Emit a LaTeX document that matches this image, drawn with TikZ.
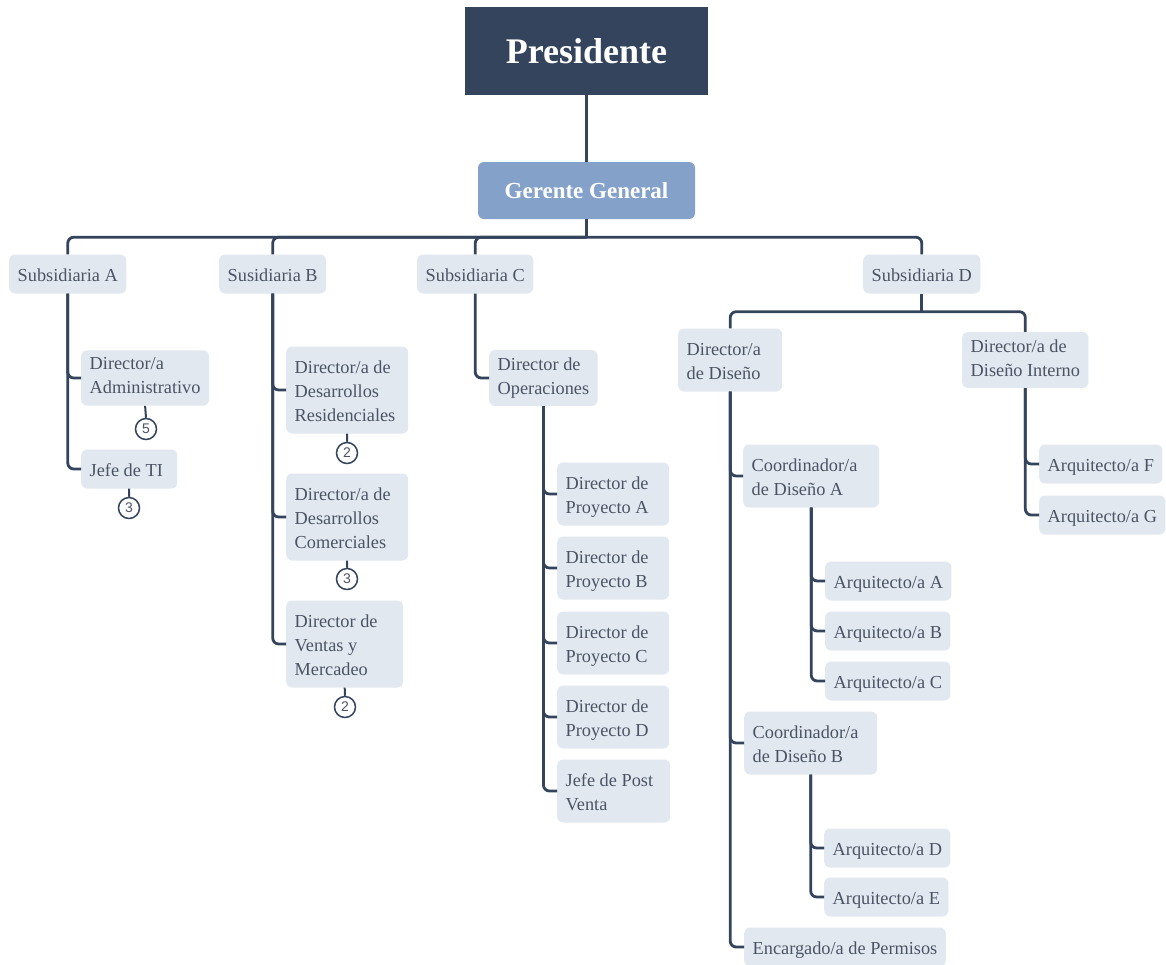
\documentclass[tikz,border=0pt]{standalone}
\usepackage{fontspec}
\setmainfont{Liberation Serif}
\newfontfamily\badgefont{Liberation Sans}

\definecolor{navy}{HTML}{34445C}
\definecolor{gmblue}{HTML}{84A1C9}
\definecolor{boxfill}{HTML}{E2E8F0}
\definecolor{boxtext}{HTML}{4B5465}

\newcommand{\linestrut}{\rule[-4.2pt]{0pt}{24pt}}

\tikzset{
  topbox/.style={fill=navy, text=white, minimum width=243pt, minimum height=88pt,
    font=\fontsize{36}{40}\selectfont\bfseries},
  gmbox/.style={fill=gmblue, text=white, rounded corners=6pt, minimum width=217pt,
    minimum height=57pt, font=\fontsize{23}{28}\selectfont\bfseries},
  orgbox/.style={fill=boxfill, text=boxtext, rounded corners=6pt, anchor=west, align=flush left,
    font=\fontsize{18.3}{24}\selectfont, inner xsep=8.5pt, inner ysep=7.5pt,
    execute at begin node=\linestrut, execute at end node=\linestrut},
  conn/.style={draw=navy, line width=2.8pt, rounded corners=6pt},
  stub/.style={draw=navy, line width=2pt},
  badge/.style={circle, draw=navy, line width=1.5pt, fill=white, minimum size=21pt,
    inner sep=0pt, text=boxtext, font=\badgefont\fontsize{14}{14}\selectfont}
}

\begin{document}
\begin{tikzpicture}[x=1pt, y=-1pt]
  \fill[white] (0,0) rectangle (1166,964);
  \useasboundingbox (0,0) rectangle (1166,964);

  % top
  \node[topbox] (pres) at (586.5,51) {Presidente};
  \node[gmbox] (gm) at (586.5,190.5) {Gerente General};

  % subsidiarias
  \node[orgbox] (subA) at (9,274) {Subsidiaria A};
  \node[orgbox] (subB) at (219,274) {Susidiaria B};
  \node[orgbox] (subC) at (417,274) {Subsidiaria C};
  \node[orgbox] (subD) at (863,274) {Subsidiaria D};

  % subsidiaria A
  \node[orgbox] (dirAdm) at (81,378) {Director/a\\Administrativo};
  \node[orgbox, text width=79pt] (jefeTI) at (81,469) {Jefe de TI};

  % subsidiaria B
  \node[orgbox, text width=105pt] (dirRes) at (286,390) {Director/a de\\Desarrollos\\Residenciales};
  \node[orgbox, text width=105pt] (dirCom) at (286,517) {Director/a de\\Desarrollos\\Comerciales};
  \node[orgbox, text width=100pt] (dirVen) at (286,644) {Director de\\Ventas y\\Mercadeo};

  % subsidiaria C
  \node[orgbox] (dirOp) at (489,378) {Director de\\Operaciones};
  \node[orgbox, text width=95pt] (proyA) at (557,494) {Director de\\Proyecto A};
  \node[orgbox, text width=95pt] (proyB) at (557,568) {Director de\\Proyecto B};
  \node[orgbox, text width=95pt] (proyC) at (557,643) {Director de\\Proyecto C};
  \node[orgbox, text width=95pt] (proyD) at (557,717) {Director de\\Proyecto D};
  \node[orgbox, text width=96pt] (postV) at (557,791) {Jefe de Post\\Venta};

  % subsidiaria D
  \node[orgbox, text width=87pt] (dirDis) at (678,360) {Director/a\\de Diseño};
  \node[orgbox] (dirInt) at (962,360) {Director/a de\\Diseño Interno};
  \node[orgbox, text width=119pt] (coordA) at (743,476) {Coordinador/a\\de Diseño A};
  \node[orgbox] (arqA) at (825,581) {Arquitecto/a A};
  \node[orgbox] (arqB) at (825,631) {Arquitecto/a B};
  \node[orgbox] (arqC) at (825,681) {Arquitecto/a C};
  \node[orgbox, text width=116pt] (coordB) at (744,743) {Coordinador/a\\de Diseño B};
  \node[orgbox] (arqD) at (824,848) {Arquitecto/a D};
  \node[orgbox] (arqE) at (824,897) {Arquitecto/a E};
  \node[orgbox] (permisos) at (744,947) {Encargado/a de Permisos};
  \node[orgbox] (arqF) at (1039,464) {Arquitecto/a F};
  \node[orgbox] (arqG) at (1039,515) {Arquitecto/a G};

  % badges
  \node[badge] (cntAdm) at (146,429) {5};
  \node[badge] (cntTI) at (129,508) {3};
  \node[badge] (cntRes) at (347,453) {2};
  \node[badge] (cntCom) at (347,579) {3};
  \node[badge] (cntVen) at (345,707) {2};

  \draw[stub] (dirAdm.south) -- (cntAdm.north);
  \draw[stub] (jefeTI.south) -- (cntTI.north);
  \draw[stub] (dirRes.south) -- (cntRes.north);
  \draw[stub] (dirCom.south) -- (cntCom.north);
  \draw[stub] (dirVen.south) -- (cntVen.north);

  % connectors
  \draw[conn] (pres.south) -- (gm.north);
  \path (gm.south) ++(0,18) coordinate (busG);
  \draw[conn] (gm.south) -- (busG);
  \foreach \s in {subA, subB, subC, subD}
    \draw[conn] (busG) -| (\s.north);

  \foreach \c in {dirAdm, jefeTI}
    \draw[conn] (subA.south) |- (\c.west);
  \foreach \c in {dirRes, dirCom, dirVen}
    \draw[conn] (subB.south) |- (\c.west);
  \draw[conn] (subC.south) |- (dirOp.west);
  \foreach \c in {proyA, proyB, proyC, proyD, postV}
    \draw[conn] (dirOp.south) |- (\c.west);

  \path (subD.south) ++(0,18) coordinate (busD);
  \draw[conn] (subD.south) -- (busD);
  \draw[conn] (busD) -| (dirDis.north);
  \draw[conn] (busD) -| (dirInt.north);
  \foreach \c in {coordA, coordB, permisos}
    \draw[conn] (dirDis.south) |- (\c.west);
  \foreach \c in {arqA, arqB, arqC}
    \draw[conn] (coordA.south) |- (\c.west);
  \foreach \c in {arqD, arqE}
    \draw[conn] (coordB.south) |- (\c.west);
  \foreach \c in {arqF, arqG}
    \draw[conn] (dirInt.south) |- (\c.west);
\end{tikzpicture}
\end{document}
